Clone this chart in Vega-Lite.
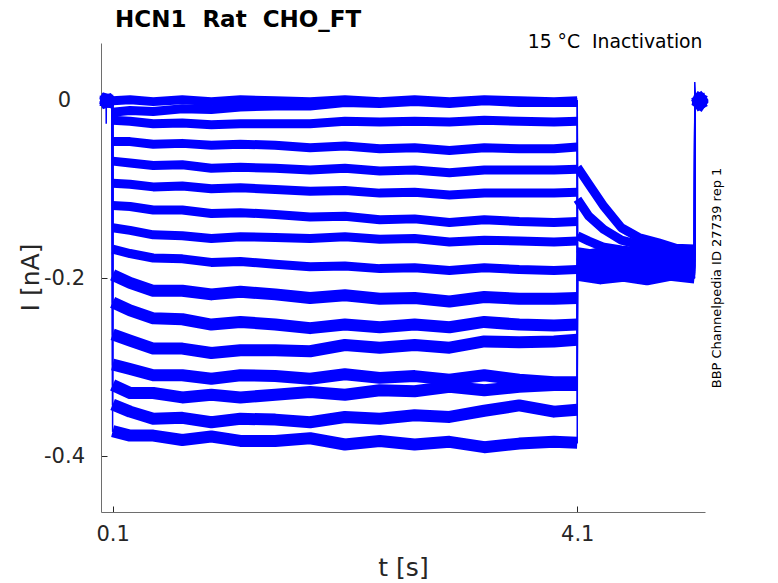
{
  "$schema": "https://vega.github.io/schema/vega-lite/v6.json",
  "width": 604,
  "height": 469,
  "autosize": {"type": "none"},
  "padding": {"left": 101, "top": 43, "right": 73, "bottom": 71},
  "background": "white",
  "title": {
    "text": "HCN1\u00a0 Rat\u00a0 CHO_FT",
    "anchor": "start",
    "frame": "group",
    "dx": 14,
    "offset": 0,
    "font": "DejaVu Sans",
    "fontSize": 23,
    "fontWeight": "bold",
    "color": "#000000"
  },
  "data": {
    "values": [
      {"k":1,"s":0,"t":0,"i":0.002},{"k":1,"s":9,"t":0.044,"i":0},{"k":1,"s":9,"t":0.045,"i":-0.026},{"k":1,"s":9,"t":0.046,"i":0},{"k":1,"s":0,"t":0.098,"i":0.001},
      {"k":1,"s":1,"t":0.1,"i":0},{"k":1,"s":1,"t":0.25,"i":0.001},{"k":1,"s":1,"t":0.45,"i":-0.001},{"k":1,"s":1,"t":0.7,"i":0.001},{"k":1,"s":1,"t":0.95,"i":-0.001},{"k":1,"s":1,"t":1.2,"i":0.001},{"k":1,"s":1,"t":1.5,"i":0},{"k":1,"s":1,"t":1.8,"i":-0.001},{"k":1,"s":1,"t":2.1,"i":0.001},{"k":1,"s":1,"t":2.4,"i":-0.001},{"k":1,"s":1,"t":2.7,"i":0.001},{"k":1,"s":1,"t":3.0,"i":-0.001},{"k":1,"s":1,"t":3.3,"i":0.001},{"k":1,"s":1,"t":3.6,"i":0},{"k":1,"s":1,"t":3.9,"i":-0.001},{"k":1,"s":1,"t":4.1,"i":0},
      {"k":1,"s":2,"t":4.102,"i":-0.075},{"k":1,"s":2,"t":4.2,"i":-0.094},{"k":1,"s":2,"t":4.33,"i":-0.119},{"k":1,"s":2,"t":4.48,"i":-0.143},{"k":1,"s":2,"t":4.63,"i":-0.154},{"k":1,"s":2,"t":4.8,"i":-0.16},{"k":1,"s":2,"t":4.95,"i":-0.166},{"k":1,"s":2,"t":5.11,"i":-0.167},
      {"k":1,"s":9,"t":5.112,"i":0.021},{"k":1,"s":3,"t":5.118,"i":0.003},{"k":1,"s":3,"t":5.2,"i":0.004},

      {"k":2,"s":0,"t":0,"i":-0.001},{"k":2,"s":0,"t":0.098,"i":0.002},
      {"k":2,"s":1,"t":0.1,"i":-0.013},{"k":2,"s":1,"t":0.25,"i":-0.011},{"k":2,"s":1,"t":0.45,"i":-0.012},{"k":2,"s":1,"t":0.7,"i":-0.009},{"k":2,"s":1,"t":0.95,"i":-0.01},{"k":2,"s":1,"t":1.2,"i":-0.007},{"k":2,"s":1,"t":1.5,"i":-0.006},{"k":2,"s":1,"t":1.8,"i":-0.006},{"k":2,"s":1,"t":2.1,"i":-0.002},{"k":2,"s":1,"t":2.4,"i":-0.003},{"k":2,"s":1,"t":2.7,"i":-0.001},{"k":2,"s":1,"t":3.0,"i":-0.003},{"k":2,"s":1,"t":3.3,"i":0},{"k":2,"s":1,"t":3.6,"i":-0.002},{"k":2,"s":1,"t":3.9,"i":-0.002},{"k":2,"s":1,"t":4.1,"i":-0.002},
      {"k":2,"s":2,"t":4.102,"i":-0.111},{"k":2,"s":2,"t":4.2,"i":-0.13},{"k":2,"s":2,"t":4.33,"i":-0.145},{"k":2,"s":2,"t":4.48,"i":-0.157},{"k":2,"s":2,"t":4.63,"i":-0.162},{"k":2,"s":2,"t":4.8,"i":-0.166},{"k":2,"s":2,"t":4.95,"i":-0.168},{"k":2,"s":2,"t":5.11,"i":-0.17},
      {"k":2,"s":3,"t":5.112,"i":-0.004},{"k":2,"s":3,"t":5.2,"i":0.001},

      {"k":3,"s":0,"t":0,"i":0.003},{"k":3,"s":0,"t":0.098,"i":-0.002},
      {"k":3,"s":1,"t":0.1,"i":-0.022},{"k":3,"s":1,"t":0.25,"i":-0.023},{"k":3,"s":1,"t":0.45,"i":-0.026},{"k":3,"s":1,"t":0.7,"i":-0.025},{"k":3,"s":1,"t":0.95,"i":-0.027},{"k":3,"s":1,"t":1.2,"i":-0.026},{"k":3,"s":1,"t":1.5,"i":-0.026},{"k":3,"s":1,"t":1.8,"i":-0.026},{"k":3,"s":1,"t":2.1,"i":-0.023},{"k":3,"s":1,"t":2.4,"i":-0.024},{"k":3,"s":1,"t":2.7,"i":-0.023},{"k":3,"s":1,"t":3.0,"i":-0.024},{"k":3,"s":1,"t":3.3,"i":-0.022},{"k":3,"s":1,"t":3.6,"i":-0.023},{"k":3,"s":1,"t":3.9,"i":-0.024},{"k":3,"s":1,"t":4.1,"i":-0.023},
      {"k":3,"s":2,"t":4.102,"i":-0.152},{"k":3,"s":2,"t":4.2,"i":-0.158},{"k":3,"s":2,"t":4.33,"i":-0.165},{"k":3,"s":2,"t":4.48,"i":-0.168},{"k":3,"s":2,"t":4.63,"i":-0.17},{"k":3,"s":2,"t":4.8,"i":-0.171},{"k":3,"s":2,"t":4.95,"i":-0.169},{"k":3,"s":2,"t":5.11,"i":-0.172},
      {"k":3,"s":3,"t":5.112,"i":0.005},{"k":3,"s":3,"t":5.2,"i":-0.003},

      {"k":4,"s":0,"t":0,"i":-0.003},{"k":4,"s":0,"t":0.098,"i":0},
      {"k":4,"s":1,"t":0.1,"i":-0.046},{"k":4,"s":1,"t":0.25,"i":-0.046},{"k":4,"s":1,"t":0.45,"i":-0.049},{"k":4,"s":1,"t":0.7,"i":-0.048},{"k":4,"s":1,"t":0.95,"i":-0.05},{"k":4,"s":1,"t":1.2,"i":-0.049},{"k":4,"s":1,"t":1.5,"i":-0.05},{"k":4,"s":1,"t":1.8,"i":-0.053},{"k":4,"s":1,"t":2.1,"i":-0.051},{"k":4,"s":1,"t":2.4,"i":-0.054},{"k":4,"s":1,"t":2.7,"i":-0.053},{"k":4,"s":1,"t":3.0,"i":-0.056},{"k":4,"s":1,"t":3.3,"i":-0.053},{"k":4,"s":1,"t":3.6,"i":-0.054},{"k":4,"s":1,"t":3.9,"i":-0.054},{"k":4,"s":1,"t":4.1,"i":-0.052},
      {"k":4,"s":2,"t":4.102,"i":-0.17},{"k":4,"s":2,"t":4.3,"i":-0.174},{"k":4,"s":2,"t":4.5,"i":-0.171},{"k":4,"s":2,"t":4.7,"i":-0.175},{"k":4,"s":2,"t":4.9,"i":-0.171},{"k":4,"s":2,"t":5.11,"i":-0.173},
      {"k":4,"s":3,"t":5.112,"i":-0.006},{"k":4,"s":3,"t":5.2,"i":0.002},

      {"k":5,"s":0,"t":0,"i":0.001},{"k":5,"s":0,"t":0.098,"i":-0.003},
      {"k":5,"s":1,"t":0.1,"i":-0.068},{"k":5,"s":1,"t":0.25,"i":-0.07},{"k":5,"s":1,"t":0.45,"i":-0.073},{"k":5,"s":1,"t":0.7,"i":-0.072},{"k":5,"s":1,"t":0.95,"i":-0.076},{"k":5,"s":1,"t":1.2,"i":-0.075},{"k":5,"s":1,"t":1.5,"i":-0.076},{"k":5,"s":1,"t":1.8,"i":-0.078},{"k":5,"s":1,"t":2.1,"i":-0.076},{"k":5,"s":1,"t":2.4,"i":-0.079},{"k":5,"s":1,"t":2.7,"i":-0.078},{"k":5,"s":1,"t":3.0,"i":-0.081},{"k":5,"s":1,"t":3.3,"i":-0.078},{"k":5,"s":1,"t":3.6,"i":-0.078},{"k":5,"s":1,"t":3.9,"i":-0.078},{"k":5,"s":1,"t":4.1,"i":-0.077},
      {"k":5,"s":2,"t":4.102,"i":-0.194},{"k":5,"s":2,"t":4.3,"i":-0.19},{"k":5,"s":2,"t":4.5,"i":-0.193},{"k":5,"s":2,"t":4.7,"i":-0.189},{"k":5,"s":2,"t":4.9,"i":-0.194},{"k":5,"s":2,"t":5.11,"i":-0.191},
      {"k":5,"s":3,"t":5.112,"i":0.002},{"k":5,"s":3,"t":5.2,"i":-0.005},

      {"k":6,"s":0,"t":0,"i":0},{"k":6,"s":0,"t":0.098,"i":0.003},
      {"k":6,"s":1,"t":0.1,"i":-0.093},{"k":6,"s":1,"t":0.25,"i":-0.094},{"k":6,"s":1,"t":0.45,"i":-0.097},{"k":6,"s":1,"t":0.7,"i":-0.096},{"k":6,"s":1,"t":0.95,"i":-0.099},{"k":6,"s":1,"t":1.2,"i":-0.098},{"k":6,"s":1,"t":1.5,"i":-0.1},{"k":6,"s":1,"t":1.8,"i":-0.102},{"k":6,"s":1,"t":2.1,"i":-0.101},{"k":6,"s":1,"t":2.4,"i":-0.104},{"k":6,"s":1,"t":2.7,"i":-0.103},{"k":6,"s":1,"t":3.0,"i":-0.106},{"k":6,"s":1,"t":3.3,"i":-0.104},{"k":6,"s":1,"t":3.6,"i":-0.104},{"k":6,"s":1,"t":3.9,"i":-0.104},{"k":6,"s":1,"t":4.1,"i":-0.103},
      {"k":6,"s":2,"t":4.102,"i":-0.176},{"k":6,"s":2,"t":4.3,"i":-0.18},{"k":6,"s":2,"t":4.5,"i":-0.177},{"k":6,"s":2,"t":4.7,"i":-0.181},{"k":6,"s":2,"t":4.9,"i":-0.176},{"k":6,"s":2,"t":5.11,"i":-0.179},
      {"k":6,"s":3,"t":5.112,"i":-0.002},{"k":6,"s":3,"t":5.2,"i":0.005},

      {"k":7,"s":0,"t":0,"i":-0.002},{"k":7,"s":0,"t":0.098,"i":0.001},
      {"k":7,"s":1,"t":0.1,"i":-0.118},{"k":7,"s":1,"t":0.25,"i":-0.119},{"k":7,"s":1,"t":0.45,"i":-0.123},{"k":7,"s":1,"t":0.7,"i":-0.123},{"k":7,"s":1,"t":0.95,"i":-0.127},{"k":7,"s":1,"t":1.2,"i":-0.126},{"k":7,"s":1,"t":1.5,"i":-0.128},{"k":7,"s":1,"t":1.8,"i":-0.131},{"k":7,"s":1,"t":2.1,"i":-0.13},{"k":7,"s":1,"t":2.4,"i":-0.134},{"k":7,"s":1,"t":2.7,"i":-0.133},{"k":7,"s":1,"t":3.0,"i":-0.137},{"k":7,"s":1,"t":3.3,"i":-0.134},{"k":7,"s":1,"t":3.6,"i":-0.136},{"k":7,"s":1,"t":3.9,"i":-0.137},{"k":7,"s":1,"t":4.1,"i":-0.136},
      {"k":7,"s":2,"t":4.102,"i":-0.198},{"k":7,"s":2,"t":4.3,"i":-0.194},{"k":7,"s":2,"t":4.5,"i":-0.197},{"k":7,"s":2,"t":4.7,"i":-0.193},{"k":7,"s":2,"t":4.9,"i":-0.198},{"k":7,"s":2,"t":5.11,"i":-0.195},
      {"k":7,"s":3,"t":5.112,"i":0.004},{"k":7,"s":3,"t":5.2,"i":-0.006},

      {"k":8,"s":0,"t":0,"i":0.002},{"k":8,"s":0,"t":0.098,"i":-0.001},
      {"k":8,"s":1,"t":0.1,"i":-0.143},{"k":8,"s":1,"t":0.25,"i":-0.146},{"k":8,"s":1,"t":0.45,"i":-0.151},{"k":8,"s":1,"t":0.7,"i":-0.152},{"k":8,"s":1,"t":0.95,"i":-0.155},{"k":8,"s":1,"t":1.2,"i":-0.153},{"k":8,"s":1,"t":1.5,"i":-0.154},{"k":8,"s":1,"t":1.8,"i":-0.155},{"k":8,"s":1,"t":2.1,"i":-0.153},{"k":8,"s":1,"t":2.4,"i":-0.156},{"k":8,"s":1,"t":2.7,"i":-0.155},{"k":8,"s":1,"t":3.0,"i":-0.159},{"k":8,"s":1,"t":3.3,"i":-0.157},{"k":8,"s":1,"t":3.6,"i":-0.158},{"k":8,"s":1,"t":3.9,"i":-0.159},{"k":8,"s":1,"t":4.1,"i":-0.158},
      {"k":8,"s":2,"t":4.102,"i":-0.182},{"k":8,"s":2,"t":4.3,"i":-0.186},{"k":8,"s":2,"t":4.5,"i":-0.183},{"k":8,"s":2,"t":4.7,"i":-0.187},{"k":8,"s":2,"t":4.9,"i":-0.182},{"k":8,"s":2,"t":5.11,"i":-0.185},
      {"k":8,"s":3,"t":5.112,"i":-0.007},{"k":8,"s":3,"t":5.2,"i":0.003},

      {"k":9,"s":0,"t":0,"i":-0.001},{"k":9,"s":0,"t":0.098,"i":0.002},
      {"k":9,"s":1,"t":0.1,"i":-0.167},{"k":9,"s":1,"t":0.25,"i":-0.172},{"k":9,"s":1,"t":0.45,"i":-0.177},{"k":9,"s":1,"t":0.7,"i":-0.178},{"k":9,"s":1,"t":0.95,"i":-0.182},{"k":9,"s":1,"t":1.2,"i":-0.181},{"k":9,"s":1,"t":1.5,"i":-0.184},{"k":9,"s":1,"t":1.8,"i":-0.187},{"k":9,"s":1,"t":2.1,"i":-0.186},{"k":9,"s":1,"t":2.4,"i":-0.189},{"k":9,"s":1,"t":2.7,"i":-0.188},{"k":9,"s":1,"t":3.0,"i":-0.191},{"k":9,"s":1,"t":3.3,"i":-0.188},{"k":9,"s":1,"t":3.6,"i":-0.19},{"k":9,"s":1,"t":3.9,"i":-0.191},{"k":9,"s":1,"t":4.1,"i":-0.19},
      {"k":9,"s":2,"t":4.102,"i":-0.19},{"k":9,"s":2,"t":4.3,"i":-0.186},{"k":9,"s":2,"t":4.5,"i":-0.189},{"k":9,"s":2,"t":4.7,"i":-0.185},{"k":9,"s":2,"t":4.9,"i":-0.19},{"k":9,"s":2,"t":5.11,"i":-0.187},
      {"k":9,"s":3,"t":5.112,"i":0.006},{"k":9,"s":3,"t":5.2,"i":-0.002},

      {"k":10,"s":0,"t":0,"i":0.001},{"k":10,"s":0,"t":0.098,"i":-0.002},
      {"k":10,"s":1,"t":0.1,"i":-0.196},{"k":10,"s":1,"t":0.25,"i":-0.205},{"k":10,"s":1,"t":0.45,"i":-0.214},{"k":10,"s":1,"t":0.7,"i":-0.214},{"k":10,"s":1,"t":0.95,"i":-0.218},{"k":10,"s":1,"t":1.2,"i":-0.215},{"k":10,"s":1,"t":1.5,"i":-0.218},{"k":10,"s":1,"t":1.8,"i":-0.222},{"k":10,"s":1,"t":2.1,"i":-0.219},{"k":10,"s":1,"t":2.4,"i":-0.223},{"k":10,"s":1,"t":2.7,"i":-0.222},{"k":10,"s":1,"t":3.0,"i":-0.226},{"k":10,"s":1,"t":3.3,"i":-0.221},{"k":10,"s":1,"t":3.6,"i":-0.223},{"k":10,"s":1,"t":3.9,"i":-0.223},{"k":10,"s":1,"t":4.1,"i":-0.222},
      {"k":10,"s":2,"t":4.102,"i":-0.173},{"k":10,"s":2,"t":4.3,"i":-0.177},{"k":10,"s":2,"t":4.5,"i":-0.174},{"k":10,"s":2,"t":4.7,"i":-0.178},{"k":10,"s":2,"t":4.9,"i":-0.173},{"k":10,"s":2,"t":5.11,"i":-0.176},
      {"k":10,"s":3,"t":5.112,"i":-0.003},{"k":10,"s":3,"t":5.2,"i":0.006},

      {"k":11,"s":0,"t":0,"i":-0.002},{"k":11,"s":0,"t":0.098,"i":0.001},
      {"k":11,"s":1,"t":0.1,"i":-0.227},{"k":11,"s":1,"t":0.25,"i":-0.236},{"k":11,"s":1,"t":0.45,"i":-0.245},{"k":11,"s":1,"t":0.7,"i":-0.246},{"k":11,"s":1,"t":0.95,"i":-0.252},{"k":11,"s":1,"t":1.2,"i":-0.249},{"k":11,"s":1,"t":1.5,"i":-0.252},{"k":11,"s":1,"t":1.8,"i":-0.256},{"k":11,"s":1,"t":2.1,"i":-0.252},{"k":11,"s":1,"t":2.4,"i":-0.255},{"k":11,"s":1,"t":2.7,"i":-0.252},{"k":11,"s":1,"t":3.0,"i":-0.255},{"k":11,"s":1,"t":3.3,"i":-0.249},{"k":11,"s":1,"t":3.6,"i":-0.252},{"k":11,"s":1,"t":3.9,"i":-0.253},{"k":11,"s":1,"t":4.1,"i":-0.252},
      {"k":11,"s":2,"t":4.102,"i":-0.196},{"k":11,"s":2,"t":4.3,"i":-0.192},{"k":11,"s":2,"t":4.5,"i":-0.195},{"k":11,"s":2,"t":4.7,"i":-0.191},{"k":11,"s":2,"t":4.9,"i":-0.196},{"k":11,"s":2,"t":5.11,"i":-0.193},
      {"k":11,"s":3,"t":5.112,"i":0.001},{"k":11,"s":3,"t":5.2,"i":-0.007},

      {"k":12,"s":0,"t":0,"i":0.002},{"k":12,"s":0,"t":0.098,"i":0},
      {"k":12,"s":1,"t":0.1,"i":-0.263},{"k":12,"s":1,"t":0.25,"i":-0.27},{"k":12,"s":1,"t":0.45,"i":-0.279},{"k":12,"s":1,"t":0.7,"i":-0.279},{"k":12,"s":1,"t":0.95,"i":-0.284},{"k":12,"s":1,"t":1.2,"i":-0.281},{"k":12,"s":1,"t":1.5,"i":-0.281},{"k":12,"s":1,"t":1.8,"i":-0.282},{"k":12,"s":1,"t":2.1,"i":-0.275},{"k":12,"s":1,"t":2.4,"i":-0.278},{"k":12,"s":1,"t":2.7,"i":-0.275},{"k":12,"s":1,"t":3.0,"i":-0.278},{"k":12,"s":1,"t":3.3,"i":-0.271},{"k":12,"s":1,"t":3.6,"i":-0.272},{"k":12,"s":1,"t":3.9,"i":-0.271},{"k":12,"s":1,"t":4.1,"i":-0.269},
      {"k":12,"s":2,"t":4.102,"i":-0.178},{"k":12,"s":2,"t":4.3,"i":-0.182},{"k":12,"s":2,"t":4.5,"i":-0.179},{"k":12,"s":2,"t":4.7,"i":-0.183},{"k":12,"s":2,"t":4.9,"i":-0.178},{"k":12,"s":2,"t":5.11,"i":-0.181},
      {"k":12,"s":3,"t":5.112,"i":-0.005},{"k":12,"s":3,"t":5.2,"i":0.004},

      {"k":13,"s":0,"t":0,"i":-0.001},{"k":13,"s":0,"t":0.098,"i":0.002},
      {"k":13,"s":1,"t":0.1,"i":-0.297},{"k":13,"s":1,"t":0.25,"i":-0.302},{"k":13,"s":1,"t":0.45,"i":-0.309},{"k":13,"s":1,"t":0.7,"i":-0.309},{"k":13,"s":1,"t":0.95,"i":-0.313},{"k":13,"s":1,"t":1.2,"i":-0.309},{"k":13,"s":1,"t":1.5,"i":-0.31},{"k":13,"s":1,"t":1.8,"i":-0.313},{"k":13,"s":1,"t":2.1,"i":-0.308},{"k":13,"s":1,"t":2.4,"i":-0.312},{"k":13,"s":1,"t":2.7,"i":-0.31},{"k":13,"s":1,"t":3.0,"i":-0.314},{"k":13,"s":1,"t":3.3,"i":-0.309},{"k":13,"s":1,"t":3.6,"i":-0.314},{"k":13,"s":1,"t":3.9,"i":-0.317},{"k":13,"s":1,"t":4.1,"i":-0.317},
      {"k":13,"s":2,"t":4.102,"i":-0.192},{"k":13,"s":2,"t":4.3,"i":-0.188},{"k":13,"s":2,"t":4.5,"i":-0.191},{"k":13,"s":2,"t":4.7,"i":-0.187},{"k":13,"s":2,"t":4.9,"i":-0.192},{"k":13,"s":2,"t":5.11,"i":-0.189},
      {"k":13,"s":3,"t":5.112,"i":0.003},{"k":13,"s":3,"t":5.2,"i":-0.004},

      {"k":14,"s":0,"t":0,"i":0.003},{"k":14,"s":0,"t":0.098,"i":-0.001},
      {"k":14,"s":1,"t":0.1,"i":-0.32},{"k":14,"s":1,"t":0.25,"i":-0.329},{"k":14,"s":1,"t":0.45,"i":-0.329},{"k":14,"s":1,"t":0.7,"i":-0.334},{"k":14,"s":1,"t":0.95,"i":-0.331},{"k":14,"s":1,"t":1.2,"i":-0.334},{"k":14,"s":1,"t":1.5,"i":-0.331},{"k":14,"s":1,"t":1.8,"i":-0.328},{"k":14,"s":1,"t":2.1,"i":-0.331},{"k":14,"s":1,"t":2.4,"i":-0.326},{"k":14,"s":1,"t":2.7,"i":-0.327},{"k":14,"s":1,"t":3.0,"i":-0.322},{"k":14,"s":1,"t":3.3,"i":-0.326},{"k":14,"s":1,"t":3.6,"i":-0.322},{"k":14,"s":1,"t":3.9,"i":-0.32},{"k":14,"s":1,"t":4.1,"i":-0.32},
      {"k":14,"s":2,"t":4.102,"i":-0.184},{"k":14,"s":2,"t":4.3,"i":-0.188},{"k":14,"s":2,"t":4.5,"i":-0.185},{"k":14,"s":2,"t":4.7,"i":-0.189},{"k":14,"s":2,"t":4.9,"i":-0.184},{"k":14,"s":2,"t":5.11,"i":-0.187},
      {"k":14,"s":3,"t":5.112,"i":-0.001},{"k":14,"s":3,"t":5.2,"i":0.002},

      {"k":15,"s":0,"t":0,"i":-0.003},{"k":15,"s":0,"t":0.098,"i":0.001},
      {"k":15,"s":1,"t":0.1,"i":-0.342},{"k":15,"s":1,"t":0.25,"i":-0.35},{"k":15,"s":1,"t":0.45,"i":-0.358},{"k":15,"s":1,"t":0.7,"i":-0.357},{"k":15,"s":1,"t":0.95,"i":-0.362},{"k":15,"s":1,"t":1.2,"i":-0.358},{"k":15,"s":1,"t":1.5,"i":-0.359},{"k":15,"s":1,"t":1.8,"i":-0.362},{"k":15,"s":1,"t":2.1,"i":-0.356},{"k":15,"s":1,"t":2.4,"i":-0.358},{"k":15,"s":1,"t":2.7,"i":-0.354},{"k":15,"s":1,"t":3.0,"i":-0.356},{"k":15,"s":1,"t":3.3,"i":-0.349},{"k":15,"s":1,"t":3.6,"i":-0.343},{"k":15,"s":1,"t":3.9,"i":-0.35},{"k":15,"s":1,"t":4.1,"i":-0.348},
      {"k":15,"s":2,"t":4.102,"i":-0.176},{"k":15,"s":2,"t":4.3,"i":-0.172},{"k":15,"s":2,"t":4.5,"i":-0.175},{"k":15,"s":2,"t":4.7,"i":-0.171},{"k":15,"s":2,"t":4.9,"i":-0.176},{"k":15,"s":2,"t":5.11,"i":-0.173},
      {"k":15,"s":3,"t":5.112,"i":0.005},{"k":15,"s":3,"t":5.2,"i":-0.001},

      {"k":16,"s":0,"t":0,"i":0.001},{"k":16,"s":0,"t":0.098,"i":-0.002},
      {"k":16,"s":1,"t":0.1,"i":-0.372},{"k":16,"s":1,"t":0.25,"i":-0.377},{"k":16,"s":1,"t":0.45,"i":-0.377},{"k":16,"s":1,"t":0.7,"i":-0.382},{"k":16,"s":1,"t":0.95,"i":-0.378},{"k":16,"s":1,"t":1.2,"i":-0.383},{"k":16,"s":1,"t":1.5,"i":-0.383},{"k":16,"s":1,"t":1.8,"i":-0.38},{"k":16,"s":1,"t":2.1,"i":-0.387},{"k":16,"s":1,"t":2.4,"i":-0.383},{"k":16,"s":1,"t":2.7,"i":-0.387},{"k":16,"s":1,"t":3.0,"i":-0.384},{"k":16,"s":1,"t":3.3,"i":-0.39},{"k":16,"s":1,"t":3.6,"i":-0.386},{"k":16,"s":1,"t":3.9,"i":-0.384},{"k":16,"s":1,"t":4.1,"i":-0.385},
      {"k":16,"s":2,"t":4.102,"i":-0.196},{"k":16,"s":2,"t":4.3,"i":-0.2},{"k":16,"s":2,"t":4.5,"i":-0.197},{"k":16,"s":2,"t":4.7,"i":-0.201},{"k":16,"s":2,"t":4.9,"i":-0.196},{"k":16,"s":2,"t":5.11,"i":-0.199},
      {"k":16,"s":3,"t":5.112,"i":-0.006},{"k":16,"s":3,"t":5.2,"i":0}
    ]
  },
  "encoding": {
    "x": {
      "field": "t",
      "type": "quantitative",
      "scale": {"domain": [0, 5.2], "nice": false, "zero": false}
    },
    "y": {
      "field": "i",
      "type": "quantitative",
      "scale": {"domain": [-0.463, 0.065], "nice": false, "zero": false}
    }
  },
  "layer": [
    {
      "transform": [{"filter": "datum.s < 9 && datum.k < 10"}],
      "mark": {"type": "line", "color": "#0000ff", "strokeWidth": 9, "strokeCap": "butt", "strokeJoin": "round"},
      "encoding": {
        "detail": [{"field": "k"}, {"field": "s"}],
        "x": {
          "field": "t",
          "type": "quantitative",
          "axis": {
            "orient": "bottom",
            "values": [0.1, 4.1],
            "format": ".1f",
            "title": "t [s]",
            "titleX": 302,
            "titleY": 55,
            "titleBaseline": "middle",
            "titleAlign": "center",
            "tickSize": -6,
            "labelPadding": 17,
            "labelBaseline": "top"
          }
        },
        "y": {
          "field": "i",
          "type": "quantitative",
          "axis": {
            "orient": "left",
            "values": [-0.4, -0.2, 0],
            "format": ".1~f",
            "labelExpr": "replace(datum.label, '\u2212', '-')",
            "title": "I [nA]",
            "titleX": -71,
            "titleY": 234,
            "titleAngle": 270,
            "titleBaseline": "middle",
            "titleAlign": "center",
            "tickSize": -6,
            "labelAlign": "center",
            "labelBaseline": "middle",
            "labelPadding": 43
          }
        }
      }
    },
    {
      "transform": [{"filter": "datum.s < 9 && datum.k >= 10"}],
      "mark": {"type": "line", "color": "#0000ff", "strokeWidth": 12, "strokeCap": "butt", "strokeJoin": "round"},
      "encoding": {
        "detail": [{"field": "k"}, {"field": "s"}],
        "x": {"field": "t", "type": "quantitative", "axis": null},
        "y": {"field": "i", "type": "quantitative", "axis": null}
      }
    },
    {
      "mark": {"type": "line", "color": "#0000ff", "strokeWidth": 1.5},
      "encoding": {
        "detail": {"field": "k"},
        "x": {
          "field": "t",
          "type": "quantitative",
          "axis": {
            "orient": "top",
            "title": "15 °C\u00a0 Inactivation",
            "labels": false,
            "ticks": false,
            "domain": false,
            "titleX": 601,
            "titleY": 4,
            "titleAlign": "right",
            "titleBaseline": "alphabetic",
            "titleFontSize": 18.8,
            "titleColor": "#000000"
          }
        },
        "y": {
          "field": "i",
          "type": "quantitative",
          "axis": {
            "orient": "right",
            "title": "BBP Channelpedia ID 27739 rep 1",
            "labels": false,
            "ticks": false,
            "domain": false,
            "titleX": 11,
            "titleY": 234.5,
            "titleAngle": 270,
            "titleAlign": "center",
            "titleBaseline": "middle",
            "titleFontSize": 13,
            "titleColor": "#000000"
          }
        }
      }
    }
  ],
  "resolve": {"axis": {"x": "independent", "y": "independent"}},
  "config": {
    "view": {"stroke": null},
    "font": "DejaVu Sans",
    "axis": {
      "grid": false,
      "domainColor": "#6e6e6e",
      "domainWidth": 1,
      "tickColor": "#262626",
      "tickWidth": 1,
      "labelFont": "DejaVu Sans",
      "labelFontSize": 21,
      "labelColor": "#262626",
      "titleFont": "DejaVu Sans",
      "titleFontSize": 25,
      "titleFontWeight": "normal",
      "titleColor": "#262626"
    }
  }
}
